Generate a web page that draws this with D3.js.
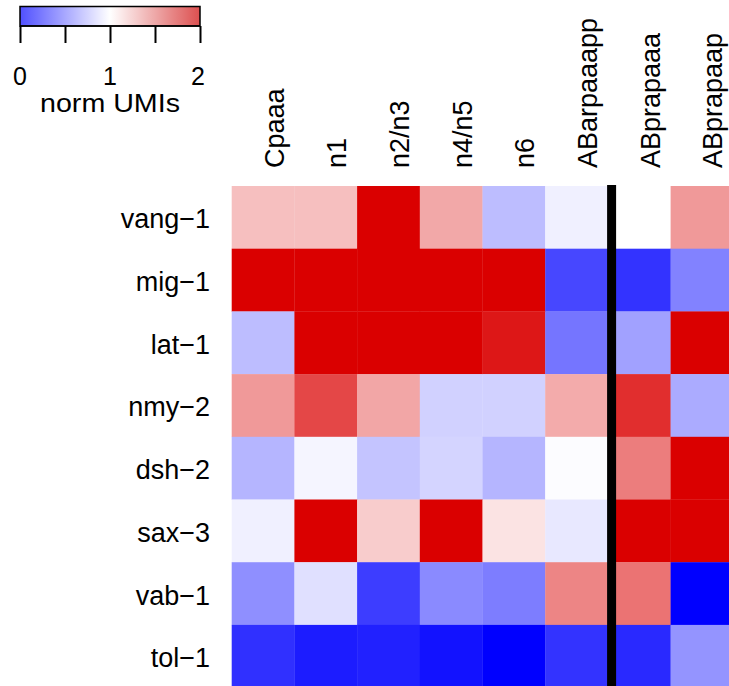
<!DOCTYPE html>
<html><head><meta charset="utf-8">
<script src="https://cdn.jsdelivr.net/npm/d3@7"></script>
<style>
html,body{margin:0;padding:0;background:#fff;}
svg{display:block;}
text{font-family:"Liberation Sans",Arial,Helvetica,sans-serif;fill:#000;}
</style></head>
<body>
<svg id="chart" width="729" height="686"></svg>
<script>
// ---- data ----
const columns = ["Cpaaa","n1","n2/n3","n4/n5","n6","ABarpaaapp","ABprapaaa","ABprapaap"];
const genes = ["vang\u22121","mig\u22121","lat\u22121","nmy\u22122","dsh\u22122","sax\u22123","vab\u22121","tol\u22121"];
const vang1 = [1.25, 1.25, 2.0, 1.34, 0.74, 0.94, 1.0, 1.4];
const mig1  = [2.0, 2.0, 2.0, 2.0, 2.0, 0.28, 0.2, 0.51];
const lat1  = [0.74, 2.0, 2.0, 2.0, 1.91, 0.46, 0.63, 2.0];
const nmy2  = [1.4, 1.72, 1.35, 0.82, 0.82, 1.33, 1.82, 0.67];
const dsh2  = [0.71, 0.96, 0.77, 0.83, 0.71, 0.99, 1.51, 2.0];
const sax3  = [0.94, 2.0, 1.2, 2.0, 1.11, 0.91, 2.0, 2.0];
const vab1  = [0.56, 0.88, 0.24, 0.54, 0.49, 1.48, 1.55, 0.0];
const tol1  = [0.19, 0.11, 0.13, 0.07, 0.0, 0.2, 0.16, 0.58];
const legendTicks = [0, 0.5, 1, 1.5, 2];
const legendLabels = [0, 1, 2];
const legendTitle = "norm UMIs";
const dividerBefore = "ABprapaaa";

const rowsData = [vang1, mig1, lat1, nmy2, dsh2, sax3, vab1, tol1];
const cells = [];
rowsData.forEach((vals, i) => vals.forEach((v, j) => cells.push({gene: genes[i], col: columns[j], v})));

// ---- layout ----
const svg = d3.select("#chart");
const cell = 62.7;
const x0 = 231.7, y0 = 186;
const x = d3.scaleBand().domain(columns).range([x0, x0 + cell * columns.length]);
const y = d3.scaleBand().domain(genes).range([y0, y0 + cell * genes.length]);
const color = d3.scaleLinear().domain([0, 1, 2]).range(["#0000ff", "#ffffff", "#da0000"]).clamp(true);

svg.append("g").selectAll("rect").data(cells).join("rect")
  .attr("x", d => x(d.col)).attr("y", d => y(d.gene))
  .attr("width", x.bandwidth() + 0.3).attr("height", y.bandwidth() + 0.3)
  .attr("fill", d => color(d.v));

// divider
svg.append("rect")
  .attr("x", x(dividerBefore) - 0.8).attr("y", y0 - 1)
  .attr("width", 9).attr("height", cell * genes.length + 2)
  .attr("fill", "#000");

// row labels
svg.append("g").selectAll("text").data(genes).join("text")
  .attr("x", 210).attr("y", d => y(d) + y.bandwidth() / 2 + 11)
  .attr("text-anchor", "end").attr("font-size", 27).text(d => d);

// column labels
svg.append("g").selectAll("text").data(columns).join("text")
  .attr("transform", d => `translate(${x(d) + x.bandwidth() / 2 + 20.5},168) rotate(-90)`)
  .attr("text-anchor", "start").attr("font-size", 27).text(d => d);

// legend
const lx = d3.scaleLinear().domain([0, 2]).range([20, 200]);
const defs = svg.append("defs");
const grad = defs.append("linearGradient").attr("id", "lg");
const legColor = d3.scaleLinear().domain([0, 1, 2]).range(["#5050ff", "#ffffff", "#dc5050"]);
d3.range(0, 2.01, 0.1).forEach(v => grad.append("stop").attr("offset", (v / 2 * 100) + "%").attr("stop-color", legColor(v)));
svg.append("rect").attr("x", lx(0)).attr("y", 6.5).attr("width", lx(2) - lx(0)).attr("height", 19.5)
  .attr("fill", "url(#lg)").attr("stroke", "#000").attr("stroke-width", 1.5);
const axis = d3.axisBottom(lx).tickValues(legendTicks).tickSize(17).tickFormat("");
const ag = svg.append("g").attr("transform", "translate(0,26)").call(axis);
ag.select(".domain").attr("stroke", "#000").attr("stroke-width", 1.5).attr("d", `M${lx(0)},0H${lx(2)}`);
ag.selectAll(".tick line").attr("stroke", "#000").attr("stroke-width", 2);
svg.append("g").selectAll("text").data(legendLabels).join("text")
  .attr("x", d => lx(d) - (d === 2 ? 2 : 0)).attr("y", 85).attr("text-anchor", "middle").attr("font-size", 25).text(d => d);
svg.append("text").attr("x", 110).attr("y", 112).attr("text-anchor", "middle").attr("font-size", 26)
  .attr("textLength", 140).attr("lengthAdjust", "spacingAndGlyphs").text(legendTitle);
</script>
</body></html>
